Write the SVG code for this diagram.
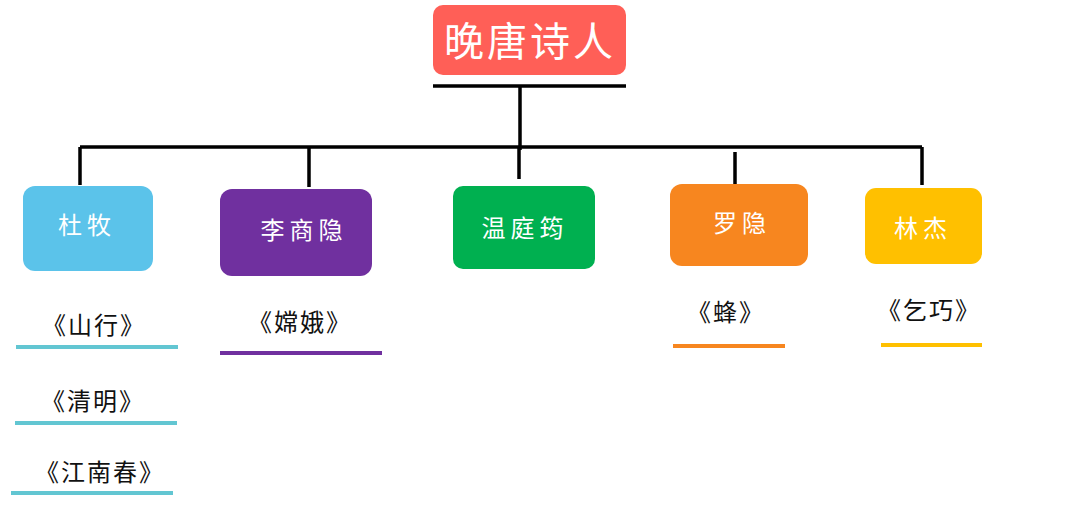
<svg xmlns="http://www.w3.org/2000/svg" width="1080" height="505" viewBox="0 0 1080 505">
<style>
.lbl{font-family:"Liberation Serif","Noto Sans CJK SC",serif;fill:#fff;text-anchor:middle;dominant-baseline:central}
.poem{font-family:"Liberation Serif","Noto Sans CJK SC",serif;fill:#111;font-size:24px;text-anchor:middle;dominant-baseline:central;letter-spacing:2px}
.ln{stroke:#000;stroke-width:3.5;fill:none}
.ul{stroke-width:4;fill:none}
</style>
<rect width="1080" height="505" fill="#fff"/>
<g id="connectors">
<path class="ln" d="M433 86 H626 M520 86 V150 M80 147 H922 M80 147 V185 M309 147 V187 M519 147 V179 M735 152 V185 M922 147 V185"/>
</g>
<g id="root">
<rect x="433" y="5" width="193" height="70" rx="10" fill="#ff5f57"/>
<text class="lbl" x="530" y="42" font-size="40" letter-spacing="3">晚唐诗人</text>
</g>
<g id="dumu">
<rect x="23" y="186" width="130" height="85" rx="12" fill="#5bc3ea"/>
<text class="lbl" x="87" y="226" font-size="24" letter-spacing="5">杜牧</text>
</g>
<g id="lishangyin">
<rect x="220" y="189" width="152" height="87" rx="12" fill="#70309f"/>
<text class="lbl" x="304" y="231" font-size="24" letter-spacing="5">李商隐</text>
</g>
<g id="wentingyun">
<rect x="453" y="186" width="142" height="83" rx="10" fill="#00b050"/>
<text class="lbl" x="525" y="229" font-size="24" letter-spacing="5">温庭筠</text>
</g>
<g id="luoyin">
<rect x="670" y="184" width="138" height="82" rx="12" fill="#f7861f"/>
<text class="lbl" x="742" y="224" font-size="24" letter-spacing="5">罗隐</text>
</g>
<g id="linjie">
<rect x="865" y="188" width="117" height="76" rx="11" fill="#ffc000"/>
<text class="lbl" x="923" y="229" font-size="24" letter-spacing="5">林杰</text>
</g>
<g id="p-shanxing">
<text class="poem" x="94" y="326">《山行》</text>
<line class="ul" x1="16" y1="347" x2="178" y2="347" stroke="#62c6d2"/>
</g>
<g id="p-qingming">
<text class="poem" x="93" y="402">《清明》</text>
<line class="ul" x1="15" y1="423" x2="177" y2="423" stroke="#62c6d2"/>
</g>
<g id="p-jiangnanchun">
<text class="poem" x="100" y="473">《江南春》</text>
<line class="ul" x1="11" y1="493" x2="173" y2="493" stroke="#62c6d2"/>
</g>
<g id="p-change">
<text class="poem" x="300" y="323">《嫦娥》</text>
<line class="ul" x1="220" y1="353" x2="382" y2="353" stroke="#70309f"/>
</g>
<g id="p-feng">
<text class="poem" x="726" y="313">《蜂》</text>
<line class="ul" x1="673" y1="346" x2="785" y2="346" stroke="#f7861f"/>
</g>
<g id="p-qiqiao">
<text class="poem" x="929" y="311">《乞巧》</text>
<line class="ul" x1="881" y1="345" x2="982" y2="345" stroke="#ffc000"/>
</g>
</svg>
